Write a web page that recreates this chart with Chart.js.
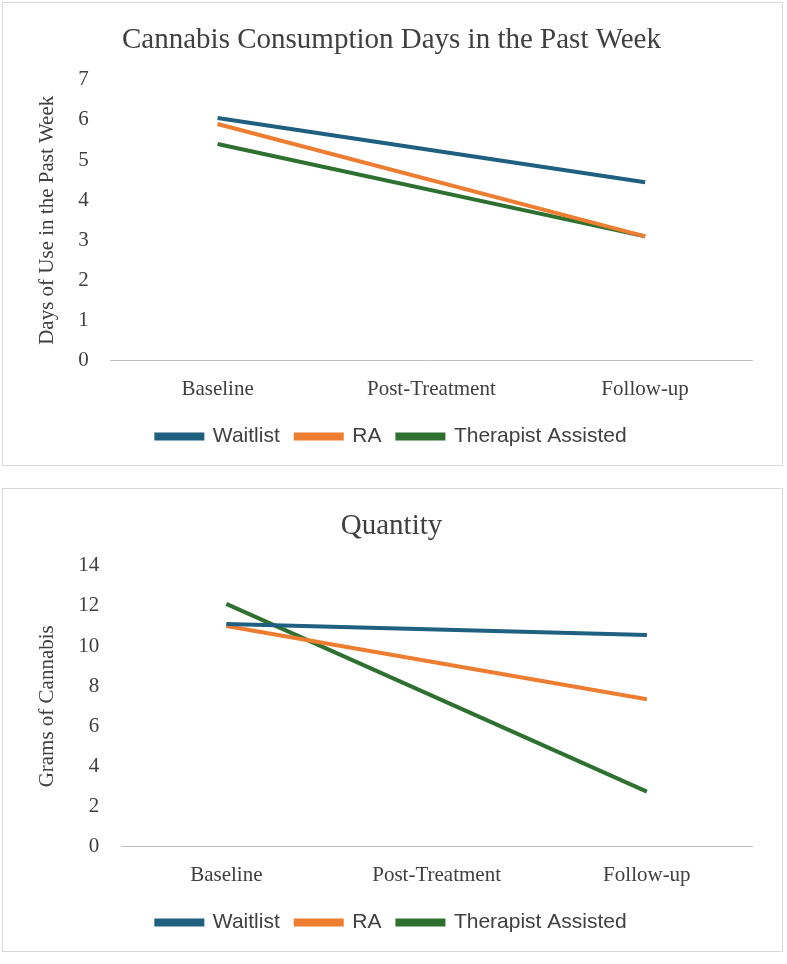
<!DOCTYPE html>
<html>
<head>
<meta charset="utf-8">
<script src="https://cdn.jsdelivr.net/npm/chart.js@4/dist/chart.umd.min.js"></script>
<style>
  body { margin: 0; background: #fff; }
  .box { position: absolute; left: 2px; width: 781px; height: 464px; border: 1px solid #d9d9d9; box-sizing: border-box; }
  #b1 { top: 2px; }
  #b2 { top: 488px; }
</style>
</head>
<body>
<div class="box" id="b1"><canvas id="c1"></canvas></div>
<div class="box" id="b2"><canvas id="c2"></canvas></div>
<script>
const categories = ["Baseline", "Post-Treatment", "Follow-up"];
const seriesNames = ["Waitlist", "RA", "Therapist Assisted"];
const colors = ["#1f5f7f", "#ed7d31", "#2e7030"];

const daysWaitlist = [6.05, null, 4.45];
const daysRA = [5.9, null, 3.1];
const daysTherapist = [5.4, null, 3.1];

const gramsWaitlist = [11.1, null, 10.55];
const gramsRA = [11.0, null, 7.35];
const gramsTherapist = [12.1, null, 2.75];

const serif = "'Liberation Serif', 'Times New Roman', serif";

function makeChart(id, title, yTitle, values, yMax, yStep) {
  new Chart(document.getElementById(id), {
    type: "line",
    data: {
      labels: categories,
      datasets: values.map((v, i) => ({
        label: seriesNames[i],
        data: v,
        borderColor: colors[i],
        backgroundColor: colors[i],
        borderWidth: 4,
        pointRadius: 0,
        spanGaps: true,
      })),
    },
    options: {
      responsive: true,
      maintainAspectRatio: false,
      animation: false,
      layout: { padding: { left: 28, right: 30, top: 20, bottom: 8 } },
      plugins: {
        title: { display: true, text: title, color: "#404040", font: { family: serif, size: 29, weight: "normal" }, padding: { bottom: 22 } },
        legend: {
          position: "bottom",
          labels: { color: "#404040", boxWidth: 46, boxHeight: 4, padding: 16, font: { family: "'Liberation Sans', Arial, sans-serif", size: 21 } },
        },
        tooltip: { enabled: false },
      },
      scales: {
        x: {
          offset: true,
          grid: { display: false, offset: true },
          border: { color: "#bfbfbf" },
          ticks: { color: "#404040", font: { family: serif, size: 21 }, padding: 8 },
        },
        y: {
          min: 0, max: yMax,
          grid: { display: false },
          border: { display: false },
          ticks: { stepSize: yStep, color: "#404040", font: { family: serif, size: 21 }, padding: 14 },
          title: { display: true, text: yTitle, color: "#404040", font: { family: serif, size: 21 } },
        },
      },
    },
  });
}

makeChart("c1", "Cannabis Consumption Days in the Past Week", "Days of Use in the Past Week",
  [daysWaitlist, daysRA, daysTherapist], 7, 1);
makeChart("c2", "Quantity", "Grams of Cannabis",
  [gramsWaitlist, gramsRA, gramsTherapist], 14, 2);
</script>
</body>
</html>
